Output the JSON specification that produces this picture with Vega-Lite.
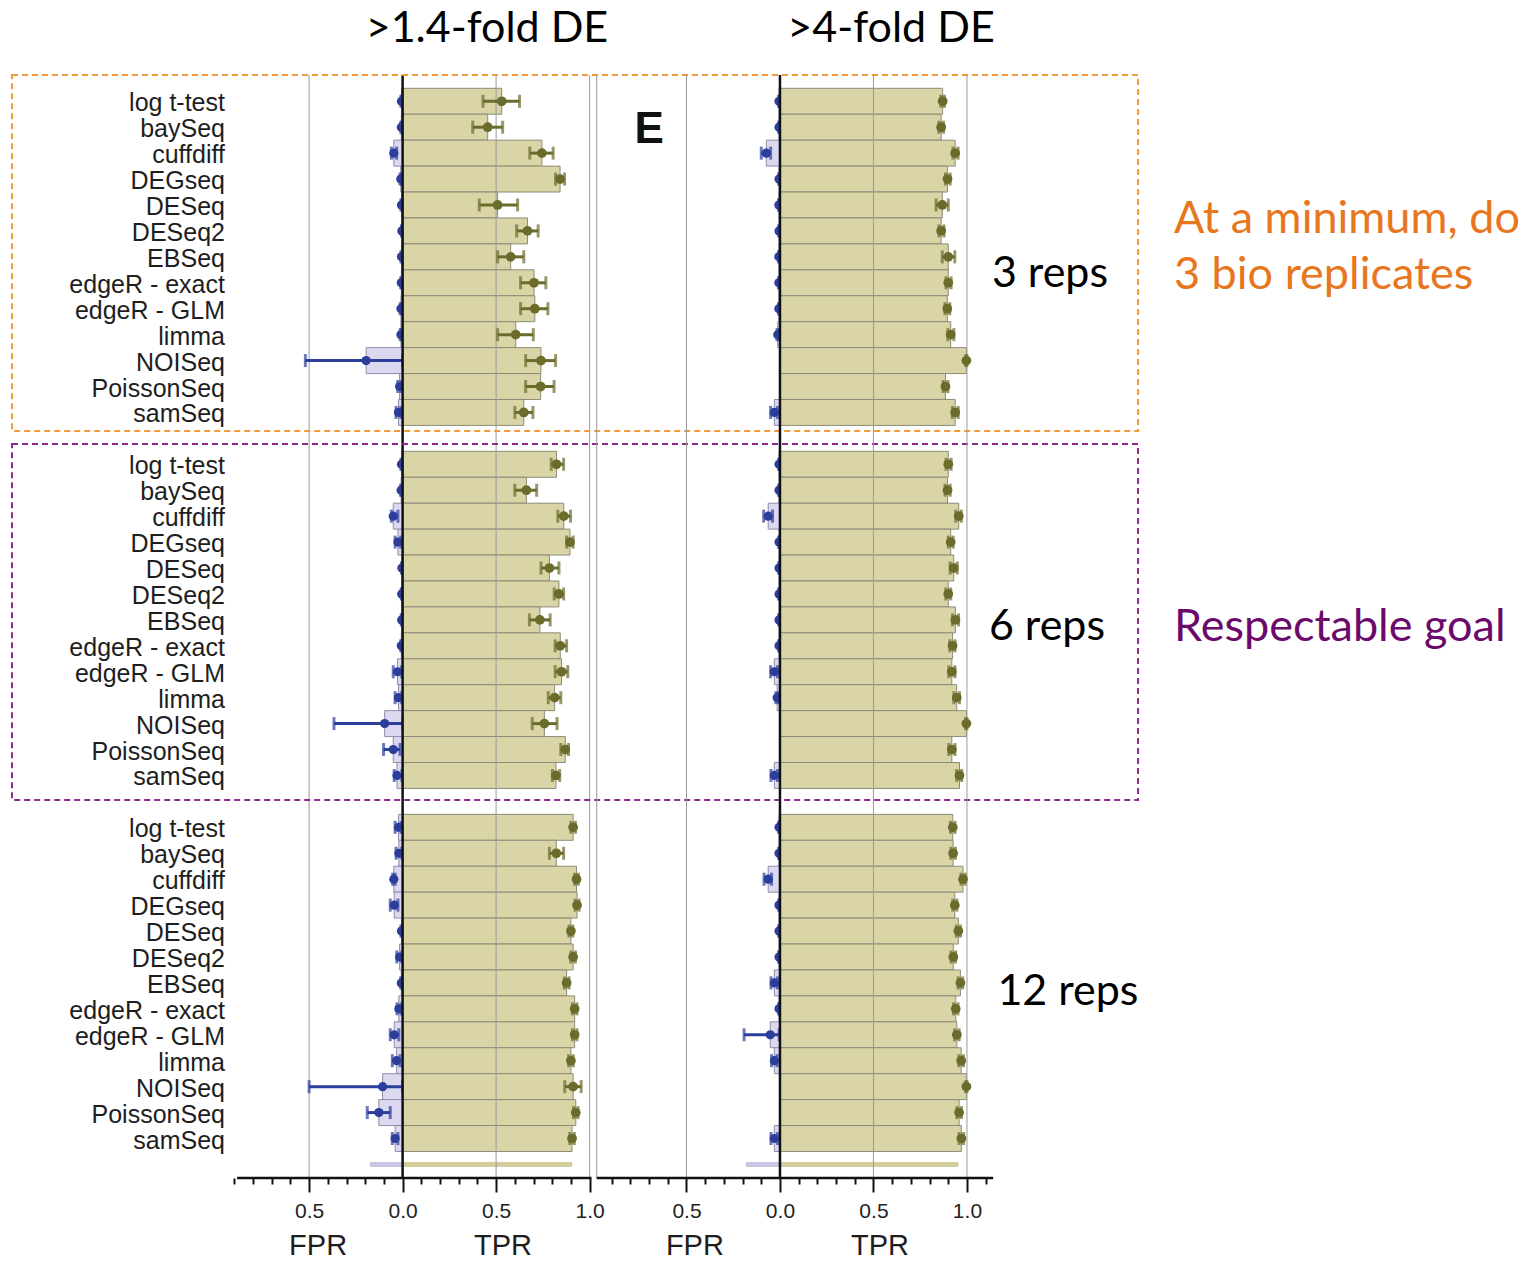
{
"$schema":"https://vega.github.io/schema/vega-lite/v6.json",
"width":1536,"height":1103,
"autosize":{"type":"none"},
"padding":{"left":0,"right":0,"top":75,"bottom":84},
"background":"white",
"config":{"view":{"stroke":null},"font":"Liberation Sans"},
"datasets":{
"rates":[
{"key":"3|log t-test","m":"log t-test","f14":0.006,"f14lo":0.003,"f14hi":0.009,"t14":0.53,"t14lo":0.43,"t14hi":0.625,"f4":0.005,"f4lo":0.003,"f4hi":0.007,"t4":0.87,"t4lo":0.86,"t4hi":0.88},
{"key":"3|baySeq","m":"baySeq","f14":0.007,"f14lo":0.004,"f14hi":0.01,"t14":0.455,"t14lo":0.375,"t14hi":0.535,"f4":0.005,"f4lo":0.003,"f4hi":0.007,"t4":0.862,"t4lo":0.85,"t4hi":0.875},
{"key":"3|cuffdiff","m":"cuffdiff","f14":0.047,"f14lo":0.032,"f14hi":0.06,"t14":0.745,"t14lo":0.68,"t14hi":0.805,"f4":0.073,"f4lo":0.05,"f4hi":0.1,"t4":0.937,"t4lo":0.925,"t4hi":0.952},
{"key":"3|DEGseq","m":"DEGseq","f14":0.01,"f14lo":0.006,"f14hi":0.014,"t14":0.842,"t14lo":0.818,"t14hi":0.866,"f4":0.005,"f4lo":0.003,"f4hi":0.007,"t4":0.896,"t4lo":0.885,"t4hi":0.91},
{"key":"3|DESeq","m":"DESeq","f14":0.006,"f14lo":0.003,"f14hi":0.009,"t14":0.508,"t14lo":0.41,"t14hi":0.615,"f4":0.006,"f4lo":0.004,"f4hi":0.008,"t4":0.868,"t4lo":0.835,"t4hi":0.9},
{"key":"3|DESeq2","m":"DESeq2","f14":0.004,"f14lo":0.002,"f14hi":0.006,"t14":0.668,"t14lo":0.61,"t14hi":0.725,"f4":0.005,"f4lo":0.003,"f4hi":0.007,"t4":0.862,"t4lo":0.85,"t4hi":0.877},
{"key":"3|EBSeq","m":"EBSeq","f14":0.006,"f14lo":0.003,"f14hi":0.009,"t14":0.578,"t14lo":0.508,"t14hi":0.648,"f4":0.006,"f4lo":0.004,"f4hi":0.008,"t4":0.9,"t4lo":0.868,"t4hi":0.935},
{"key":"3|edgeR - exact","m":"edgeR - exact","f14":0.007,"f14lo":0.004,"f14hi":0.01,"t14":0.703,"t14lo":0.631,"t14hi":0.766,"f4":0.006,"f4lo":0.004,"f4hi":0.008,"t4":0.9,"t4lo":0.888,"t4hi":0.915},
{"key":"3|edgeR - GLM","m":"edgeR - GLM","f14":0.009,"f14lo":0.005,"f14hi":0.013,"t14":0.707,"t14lo":0.631,"t14hi":0.777,"f4":0.006,"f4lo":0.004,"f4hi":0.008,"t4":0.895,"t4lo":0.882,"t4hi":0.908},
{"key":"3|limma","m":"limma","f14":0.009,"f14lo":0.005,"f14hi":0.013,"t14":0.605,"t14lo":0.508,"t14hi":0.699,"f4":0.012,"f4lo":0.008,"f4hi":0.016,"t4":0.913,"t4lo":0.898,"t4hi":0.93},
{"key":"3|NOISeq","m":"NOISeq","f14":0.195,"f14lo":0.0,"f14hi":0.52,"t14":0.74,"t14lo":0.658,"t14hi":0.818,"f4":null,"f4lo":null,"f4hi":null,"t4":0.997,"t4lo":0.993,"t4hi":1.0},
{"key":"3|PoissonSeq","m":"PoissonSeq","f14":0.016,"f14lo":0.008,"f14hi":0.026,"t14":0.738,"t14lo":0.658,"t14hi":0.81,"f4":null,"f4lo":null,"f4hi":null,"t4":0.885,"t4lo":0.873,"t4hi":0.898},
{"key":"3|samSeq","m":"samSeq","f14":0.022,"f14lo":0.01,"f14hi":0.035,"t14":0.648,"t14lo":0.6,"t14hi":0.697,"f4":0.03,"f4lo":0.013,"f4hi":0.05,"t4":0.937,"t4lo":0.922,"t4hi":0.953},
{"key":"6|log t-test","m":"log t-test","f14":0.006,"f14lo":0.003,"f14hi":0.009,"t14":0.823,"t14lo":0.795,"t14hi":0.861,"f4":0.005,"f4lo":0.003,"f4hi":0.007,"t4":0.9,"t4lo":0.888,"t4hi":0.915},
{"key":"6|baySeq","m":"baySeq","f14":0.008,"f14lo":0.005,"f14hi":0.011,"t14":0.662,"t14lo":0.6,"t14hi":0.717,"f4":0.005,"f4lo":0.003,"f4hi":0.007,"t4":0.896,"t4lo":0.883,"t4hi":0.91},
{"key":"6|cuffdiff","m":"cuffdiff","f14":0.05,"f14lo":0.025,"f14hi":0.06,"t14":0.862,"t14lo":0.83,"t14hi":0.898,"f4":0.063,"f4lo":0.04,"f4hi":0.087,"t4":0.956,"t4lo":0.94,"t4hi":0.97},
{"key":"6|DEGseq","m":"DEGseq","f14":0.025,"f14lo":0.01,"f14hi":0.04,"t14":0.895,"t14lo":0.877,"t14hi":0.912,"f4":0.005,"f4lo":0.003,"f4hi":0.007,"t4":0.913,"t4lo":0.9,"t4hi":0.926},
{"key":"6|DESeq","m":"DESeq","f14":0.004,"f14lo":0.002,"f14hi":0.006,"t14":0.785,"t14lo":0.74,"t14hi":0.836,"f4":0.005,"f4lo":0.003,"f4hi":0.007,"t4":0.929,"t4lo":0.91,"t4hi":0.948},
{"key":"6|DESeq2","m":"DESeq2","f14":0.005,"f14lo":0.003,"f14hi":0.007,"t14":0.836,"t14lo":0.811,"t14hi":0.861,"f4":0.005,"f4lo":0.003,"f4hi":0.007,"t4":0.9,"t4lo":0.887,"t4hi":0.913},
{"key":"6|EBSeq","m":"EBSeq","f14":0.005,"f14lo":0.003,"f14hi":0.007,"t14":0.734,"t14lo":0.678,"t14hi":0.789,"f4":0.005,"f4lo":0.003,"f4hi":0.007,"t4":0.938,"t4lo":0.922,"t4hi":0.955},
{"key":"6|edgeR - exact","m":"edgeR - exact","f14":0.007,"f14lo":0.004,"f14hi":0.01,"t14":0.843,"t14lo":0.816,"t14hi":0.877,"f4":0.005,"f4lo":0.003,"f4hi":0.007,"t4":0.923,"t4lo":0.908,"t4hi":0.936},
{"key":"6|edgeR - GLM","m":"edgeR - GLM","f14":0.027,"f14lo":0.005,"f14hi":0.05,"t14":0.85,"t14lo":0.816,"t14hi":0.883,"f4":0.03,"f4lo":0.013,"f4hi":0.05,"t4":0.919,"t4lo":0.903,"t4hi":0.936},
{"key":"6|limma","m":"limma","f14":0.022,"f14lo":0.005,"f14hi":0.04,"t14":0.813,"t14lo":0.779,"t14hi":0.846,"f4":0.015,"f4lo":0.008,"f4hi":0.022,"t4":0.945,"t4lo":0.93,"t4hi":0.96},
{"key":"6|NOISeq","m":"NOISeq","f14":0.096,"f14lo":0.0,"f14hi":0.367,"t14":0.758,"t14lo":0.693,"t14hi":0.826,"f4":null,"f4lo":null,"f4hi":null,"t4":0.997,"t4lo":0.993,"t4hi":1.0},
{"key":"6|PoissonSeq","m":"PoissonSeq","f14":0.05,"f14lo":0.014,"f14hi":0.102,"t14":0.87,"t14lo":0.846,"t14hi":0.887,"f4":null,"f4lo":null,"f4hi":null,"t4":0.919,"t4lo":0.903,"t4hi":0.936},
{"key":"6|samSeq","m":"samSeq","f14":0.03,"f14lo":0.004,"f14hi":0.045,"t14":0.82,"t14lo":0.801,"t14hi":0.84,"f4":0.03,"f4lo":0.013,"f4hi":0.048,"t4":0.96,"t4lo":0.945,"t4hi":0.972},
{"key":"12|log t-test","m":"log t-test","f14":0.022,"f14lo":0.008,"f14hi":0.04,"t14":0.912,"t14lo":0.9,"t14hi":0.924,"f4":0.005,"f4lo":0.003,"f4hi":0.007,"t4":0.924,"t4lo":0.912,"t4hi":0.936},
{"key":"12|baySeq","m":"baySeq","f14":0.02,"f14lo":0.004,"f14hi":0.035,"t14":0.822,"t14lo":0.785,"t14hi":0.861,"f4":0.005,"f4lo":0.003,"f4hi":0.007,"t4":0.926,"t4lo":0.914,"t4hi":0.938},
{"key":"12|cuffdiff","m":"cuffdiff","f14":0.047,"f14lo":0.04,"f14hi":0.053,"t14":0.93,"t14lo":0.92,"t14hi":0.94,"f4":0.063,"f4lo":0.045,"f4hi":0.085,"t4":0.979,"t4lo":0.968,"t4hi":0.99},
{"key":"12|DEGseq","m":"DEGseq","f14":0.045,"f14lo":0.025,"f14hi":0.066,"t14":0.933,"t14lo":0.922,"t14hi":0.944,"f4":0.005,"f4lo":0.003,"f4hi":0.007,"t4":0.935,"t4lo":0.924,"t4hi":0.946},
{"key":"12|DESeq","m":"DESeq","f14":0.006,"f14lo":0.003,"f14hi":0.009,"t14":0.9,"t14lo":0.89,"t14hi":0.91,"f4":0.005,"f4lo":0.003,"f4hi":0.007,"t4":0.954,"t4lo":0.943,"t4hi":0.965},
{"key":"12|DESeq2","m":"DESeq2","f14":0.016,"f14lo":0.004,"f14hi":0.031,"t14":0.912,"t14lo":0.9,"t14hi":0.924,"f4":0.005,"f4lo":0.003,"f4hi":0.007,"t4":0.927,"t4lo":0.915,"t4hi":0.939},
{"key":"12|EBSeq","m":"EBSeq","f14":0.007,"f14lo":0.004,"f14hi":0.01,"t14":0.877,"t14lo":0.865,"t14hi":0.89,"f4":0.03,"f4lo":0.013,"f4hi":0.048,"t4":0.965,"t4lo":0.953,"t4hi":0.977},
{"key":"12|edgeR - exact","m":"edgeR - exact","f14":0.02,"f14lo":0.008,"f14hi":0.03,"t14":0.92,"t14lo":0.908,"t14hi":0.932,"f4":0.005,"f4lo":0.003,"f4hi":0.007,"t4":0.94,"t4lo":0.928,"t4hi":0.952},
{"key":"12|edgeR - GLM","m":"edgeR - GLM","f14":0.045,"f14lo":0.02,"f14hi":0.066,"t14":0.92,"t14lo":0.908,"t14hi":0.932,"f4":0.052,"f4lo":0.004,"f4hi":0.192,"t4":0.946,"t4lo":0.934,"t4hi":0.958},
{"key":"12|limma","m":"limma","f14":0.032,"f14lo":0.014,"f14hi":0.055,"t14":0.9,"t14lo":0.888,"t14hi":0.912,"f4":0.03,"f4lo":0.015,"f4hi":0.045,"t4":0.969,"t4lo":0.957,"t4hi":0.981},
{"key":"12|NOISeq","m":"NOISeq","f14":0.107,"f14lo":0.0,"f14hi":0.5,"t14":0.912,"t14lo":0.867,"t14hi":0.955,"f4":null,"f4lo":null,"f4hi":null,"t4":0.997,"t4lo":0.993,"t4hi":1.0},
{"key":"12|PoissonSeq","m":"PoissonSeq","f14":0.127,"f14lo":0.066,"f14hi":0.189,"t14":0.926,"t14lo":0.914,"t14hi":0.938,"f4":null,"f4lo":null,"f4hi":null,"t4":0.958,"t4lo":0.946,"t4hi":0.97},
{"key":"12|samSeq","m":"samSeq","f14":0.04,"f14lo":0.025,"f14hi":0.055,"t14":0.906,"t14lo":0.894,"t14hi":0.918,"f4":0.03,"f4lo":0.013,"f4hi":0.048,"t4":0.97,"t4lo":0.958,"t4hi":0.982}
],
"tail":[{"key":"tail","f14":0.172,"t14":0.905,"f4":0.18,"t4":0.952}]
},
"layer":[
{
"layer":[
{"data":{"name":"rates"},"mark":{"type":"bar","fill":"#DCD8F0","stroke":"#8E8EA8","strokeWidth":1},
 "encoding":{"x":{"field":"f14","type":"quantitative","scale":{"domain":[-6.061,2.153],"reverse":true,"nice":false,"zero":false},
   "axis":{"orient":"bottom","values":[0.5],"format":".1f","domain":false,"grid":false,"tickSize":14,"tickWidth":2,"tickColor":"#111","labelFont":"Liberation Sans","labelFontSize":21,"labelColor":"#222","labelPadding":8,"title":null}},
  "x2":{"datum":0},
  "y":{"field":"key","type":"nominal","axis":null,"scale":{"domain":["3|log t-test","3|baySeq","3|cuffdiff","3|DEGseq","3|DESeq","3|DESeq2","3|EBSeq","3|edgeR - exact","3|edgeR - GLM","3|limma","3|NOISeq","3|PoissonSeq","3|samSeq","sp1","6|log t-test","6|baySeq","6|cuffdiff","6|DEGseq","6|DESeq","6|DESeq2","6|EBSeq","6|edgeR - exact","6|edgeR - GLM","6|limma","6|NOISeq","6|PoissonSeq","6|samSeq","sp2","12|log t-test","12|baySeq","12|cuffdiff","12|DEGseq","12|DESeq","12|DESeq2","12|EBSeq","12|edgeR - exact","12|edgeR - GLM","12|limma","12|NOISeq","12|PoissonSeq","12|samSeq","tail"],"paddingInner":0,"paddingOuter":0.268,"align":0.957}}}},
{"data":{"name":"tail"},"mark":{"type":"bar","fill":"#C9C6E8","stroke":"#A9A6C8","strokeWidth":0.5,"height":4},
 "encoding":{"x":{"field":"f14","type":"quantitative","axis":null},"x2":{"datum":0},"y":{"field":"key","type":"nominal","axis":null}}},
{"data":{"values":[{}]},"mark":{"type":"rule","color":"#9A9A9A","strokeWidth":1},"encoding":{"x":{"datum":0.5,"type":"quantitative","axis":null}}},
{"data":{"name":"rates"},"mark":{"type":"errorbar","color":"#2C3E9C","thickness":3,"size":13,"ticks":true},
 "encoding":{"x":{"field":"f14lo","type":"quantitative","axis":null},"x2":{"field":"f14hi"},"y":{"field":"key","type":"nominal","axis":null}}},
{"data":{"name":"rates"},"mark":{"type":"circle","size":85,"color":"#2C3E9C","opacity":1},
 "encoding":{"x":{"field":"f14","type":"quantitative",
   "axis":{"orient":"bottom","values":[0.1,0.2,0.3,0.4,0.6,0.7,0.8,0.9],"labels":false,"domain":false,"grid":false,"tickSize":6,"tickWidth":2,"tickColor":"#111","title":null}},
  "y":{"field":"key","type":"nominal","axis":null}}}
],
"resolve":{"axis":{"x":"independent"}}
},
{
"layer":[
{"data":{"name":"rates"},"mark":{"type":"bar","fill":"#D9D5A7","stroke":"#8C8C78","strokeWidth":1},
 "encoding":{"x":{"field":"t14","type":"quantitative","scale":{"domain":[-2.153,6.061],"nice":false,"zero":false},
   "axis":{"orient":"bottom","values":[0,0.5,1],"format":".1f","domain":false,"grid":false,"tickSize":14,"tickWidth":2,"tickColor":"#111","labelFont":"Liberation Sans","labelFontSize":21,"labelColor":"#222","labelPadding":8,"title":null}},
  "x2":{"datum":0},
  "y":{"field":"key","type":"nominal","axis":null}}},
{"data":{"name":"tail"},"mark":{"type":"bar","fill":"#D2CE96","stroke":"#B8B47C","strokeWidth":0.5,"height":4},
 "encoding":{"x":{"field":"t14","type":"quantitative","axis":null},"x2":{"datum":0},"y":{"field":"key","type":"nominal","axis":null}}},
{"data":{"values":[{}]},"mark":{"type":"rule","color":"#9A9A9A","strokeWidth":1},"encoding":{"x":{"datum":0.5,"type":"quantitative","axis":null}}},
{"data":{"values":[{}]},"mark":{"type":"rule","color":"#9A9A9A","strokeWidth":1},"encoding":{"x":{"datum":1.0,"type":"quantitative","axis":null}}},
{"data":{"name":"rates"},"mark":{"type":"errorbar","color":"#6B6B2C","thickness":3,"size":13,"ticks":true},
 "encoding":{"x":{"field":"t14lo","type":"quantitative","axis":null},"x2":{"field":"t14hi"},"y":{"field":"key","type":"nominal","axis":null}}},
{"data":{"name":"rates"},"mark":{"type":"circle","size":95,"color":"#6B6B2C","opacity":1},
 "encoding":{"x":{"field":"t14","type":"quantitative",
   "axis":{"orient":"bottom","values":[0.1,0.2,0.3,0.4,0.6,0.7,0.8,0.9],"labels":false,"domain":false,"grid":false,"tickSize":6,"tickWidth":2,"tickColor":"#111","title":null}},
  "y":{"field":"key","type":"nominal","axis":null}}},
{"data":{"values":[{}]},"mark":{"type":"rule","color":"#111111","strokeWidth":2.5},"encoding":{"x":{"datum":0,"type":"quantitative","axis":null}}},
{"data":{"values":[{}]},"mark":{"type":"rule","color":"#111111","strokeWidth":2.5},"encoding":{"x":{"datum":-0.885,"type":"quantitative","axis":null},"x2":{"datum":1.01},"y":{"value":"height"}}},
{"data":{"name":"rates"},"mark":{"type":"text","align":"right","baseline":"middle","dy":2,"font":"Liberation Sans","fontSize":25,"color":"#1E1E1E"},
 "encoding":{"x":{"datum":-0.95,"type":"quantitative","axis":null},"y":{"field":"key","type":"nominal","axis":null},"text":{"field":"m"}}},
{"data":{"values":[{}]},"mark":{"type":"rect","fill":null,"fillOpacity":0,"stroke":"#F39A36","strokeWidth":2,"strokeDash":[6,4]},
 "encoding":{"x":{"datum":-2.089,"type":"quantitative","axis":null},"x2":{"datum":3.933},"y":{"datum":"3|log t-test","type":"nominal","bandPosition":-0.513,"axis":null},"y2":{"datum":"sp1","bandPosition":0.216}}},
{"data":{"values":[{}]},"mark":{"type":"rect","fill":null,"fillOpacity":0,"stroke":"#8E2A8E","strokeWidth":2,"strokeDash":[6,4]},
 "encoding":{"x":{"datum":-2.089,"type":"quantitative","axis":null},"x2":{"datum":3.933},"y":{"datum":"sp1","type":"nominal","bandPosition":0.717,"axis":null},"y2":{"datum":"sp2","bandPosition":0.447}}},
{"data":{"values":[{}]},"mark":{"type":"text","text":">1.4-fold DE","align":"center","baseline":"alphabetic","dy":-59,"font":"Lato","fontSize":43,"color":"#000000"},
 "encoding":{"x":{"datum":0.451,"type":"quantitative","axis":null},"y":{"datum":"3|log t-test","type":"nominal","axis":null}}},
{"data":{"values":[{}]},"mark":{"type":"text","text":"FPR","align":"center","baseline":"alphabetic","dy":91,"font":"Liberation Sans","fontSize":29,"color":"#1E1E1E"},
 "encoding":{"x":{"datum":-0.452,"type":"quantitative","axis":null},"y":{"datum":"tail","type":"nominal","axis":null}}},
{"data":{"values":[{}]},"mark":{"type":"text","text":"TPR","align":"center","baseline":"alphabetic","dy":91,"font":"Liberation Sans","fontSize":29,"color":"#1E1E1E"},
 "encoding":{"x":{"datum":0.537,"type":"quantitative","axis":null},"y":{"datum":"tail","type":"nominal","axis":null}}}
],
"resolve":{"axis":{"x":"independent"}}
},
{
"layer":[
{"data":{"name":"rates"},"mark":{"type":"bar","fill":"#DCD8F0","stroke":"#8E8EA8","strokeWidth":1},
 "encoding":{"x":{"field":"f4","type":"quantitative","scale":{"domain":[-4.043,4.171],"reverse":true,"nice":false,"zero":false},
   "axis":{"orient":"bottom","values":[0.5],"format":".1f","domain":false,"grid":false,"tickSize":14,"tickWidth":2,"tickColor":"#111","labelFont":"Liberation Sans","labelFontSize":21,"labelColor":"#222","labelPadding":8,"title":null}},
  "x2":{"datum":0},
  "y":{"field":"key","type":"nominal","axis":null}}},
{"data":{"name":"tail"},"mark":{"type":"bar","fill":"#C9C6E8","stroke":"#A9A6C8","strokeWidth":0.5,"height":4},
 "encoding":{"x":{"field":"f4","type":"quantitative","axis":null},"x2":{"datum":0},"y":{"field":"key","type":"nominal","axis":null}}},
{"data":{"values":[{}]},"mark":{"type":"rule","color":"#9A9A9A","strokeWidth":1},"encoding":{"x":{"datum":0.5,"type":"quantitative","axis":null}}},
{"data":{"name":"rates"},"mark":{"type":"errorbar","color":"#2C3E9C","thickness":3,"size":13,"ticks":true},
 "encoding":{"x":{"field":"f4lo","type":"quantitative","axis":null},"x2":{"field":"f4hi"},"y":{"field":"key","type":"nominal","axis":null}}},
{"data":{"name":"rates"},"mark":{"type":"circle","size":85,"color":"#2C3E9C","opacity":1},
 "encoding":{"x":{"field":"f4","type":"quantitative",
   "axis":{"orient":"bottom","values":[0.1,0.2,0.3,0.4,0.6,0.7,0.8,0.9],"labels":false,"domain":false,"grid":false,"tickSize":6,"tickWidth":2,"tickColor":"#111","title":null}},
  "y":{"field":"key","type":"nominal","axis":null}}}
],
"resolve":{"axis":{"x":"independent"}}
},
{
"layer":[
{"data":{"name":"rates"},"mark":{"type":"bar","fill":"#D9D5A7","stroke":"#8C8C78","strokeWidth":1},
 "encoding":{"x":{"field":"t4","type":"quantitative","scale":{"domain":[-4.171,4.043],"nice":false,"zero":false},
   "axis":{"orient":"bottom","values":[0,0.5,1],"format":".1f","domain":false,"grid":false,"tickSize":14,"tickWidth":2,"tickColor":"#111","labelFont":"Liberation Sans","labelFontSize":21,"labelColor":"#222","labelPadding":8,"title":null}},
  "x2":{"datum":0},
  "y":{"field":"key","type":"nominal","axis":null}}},
{"data":{"name":"tail"},"mark":{"type":"bar","fill":"#D2CE96","stroke":"#B8B47C","strokeWidth":0.5,"height":4},
 "encoding":{"x":{"field":"t4","type":"quantitative","axis":null},"x2":{"datum":0},"y":{"field":"key","type":"nominal","axis":null}}},
{"data":{"values":[{}]},"mark":{"type":"rule","color":"#9A9A9A","strokeWidth":1},"encoding":{"x":{"datum":0.5,"type":"quantitative","axis":null}}},
{"data":{"values":[{}]},"mark":{"type":"rule","color":"#9A9A9A","strokeWidth":1},"encoding":{"x":{"datum":1.0,"type":"quantitative","axis":null}}},
{"data":{"values":[{}]},"mark":{"type":"rule","color":"#9A9A9A","strokeWidth":1},"encoding":{"x":{"datum":-0.98,"type":"quantitative","axis":null}}},
{"data":{"name":"rates"},"mark":{"type":"errorbar","color":"#6B6B2C","thickness":3,"size":13,"ticks":true},
 "encoding":{"x":{"field":"t4lo","type":"quantitative","axis":null},"x2":{"field":"t4hi"},"y":{"field":"key","type":"nominal","axis":null}}},
{"data":{"name":"rates"},"mark":{"type":"circle","size":95,"color":"#6B6B2C","opacity":1},
 "encoding":{"x":{"field":"t4","type":"quantitative",
   "axis":{"orient":"bottom","values":[0.1,0.2,0.3,0.4,0.6,0.7,0.8,0.9,1.1],"labels":false,"domain":false,"grid":false,"tickSize":6,"tickWidth":2,"tickColor":"#111","title":null}},
  "y":{"field":"key","type":"nominal","axis":null}}},
{"data":{"values":[{}]},"mark":{"type":"rule","color":"#111111","strokeWidth":2.5},"encoding":{"x":{"datum":0,"type":"quantitative","axis":null}}},
{"data":{"values":[{}]},"mark":{"type":"rule","color":"#111111","strokeWidth":2.5},"encoding":{"x":{"datum":-0.98,"type":"quantitative","axis":null},"x2":{"datum":1.14},"y":{"value":"height"}}},
{"data":{"values":[{}]},"mark":{"type":"text","text":">4-fold DE","align":"center","baseline":"alphabetic","dy":-59,"font":"Lato","fontSize":43,"color":"#000000"},
 "encoding":{"x":{"datum":0.594,"type":"quantitative","axis":null},"y":{"datum":"3|log t-test","type":"nominal","axis":null}}},
{"data":{"values":[{}]},"mark":{"type":"text","text":"E","align":"center","baseline":"alphabetic","dy":-10,"font":"Liberation Sans","fontWeight":"bold","fontSize":44,"color":"#111111"},
 "encoding":{"x":{"datum":-0.70,"type":"quantitative","axis":null},"y":{"datum":"3|cuffdiff","type":"nominal","axis":null}}},
{"data":{"values":[{}]},"mark":{"type":"text","text":"3 reps","align":"center","baseline":"alphabetic","dy":4,"font":"Lato","fontSize":43,"color":"#000000"},
 "encoding":{"x":{"datum":1.444,"type":"quantitative","axis":null},"y":{"datum":"3|edgeR - exact","type":"nominal","axis":null}}},
{"data":{"values":[{}]},"mark":{"type":"text","text":"6 reps","align":"center","baseline":"alphabetic","dy":-6,"font":"Lato","fontSize":43,"color":"#000000"},
 "encoding":{"x":{"datum":1.428,"type":"quantitative","axis":null},"y":{"datum":"6|edgeR - exact","type":"nominal","axis":null}}},
{"data":{"values":[{}]},"mark":{"type":"text","text":"12 reps","align":"center","baseline":"alphabetic","dy":-4,"font":"Lato","fontSize":43,"color":"#000000"},
 "encoding":{"x":{"datum":1.54,"type":"quantitative","axis":null},"y":{"datum":"12|edgeR - exact","type":"nominal","axis":null}}},
{"data":{"values":[{}]},"mark":{"type":"text","text":"At a minimum, do","align":"left","baseline":"alphabetic","dy":2,"font":"Lato","fontSize":45,"color":"#E8761C"},
 "encoding":{"x":{"datum":2.107,"type":"quantitative","axis":null},"y":{"datum":"3|DESeq2","type":"nominal","axis":null}}},
{"data":{"values":[{}]},"mark":{"type":"text","text":"3 bio replicates","align":"left","baseline":"alphabetic","dy":6,"font":"Lato","fontSize":45,"color":"#E8761C"},
 "encoding":{"x":{"datum":2.107,"type":"quantitative","axis":null},"y":{"datum":"3|edgeR - exact","type":"nominal","axis":null}}},
{"data":{"values":[{}]},"mark":{"type":"text","text":"Respectable goal","align":"left","baseline":"alphabetic","dy":-5,"font":"Lato","fontSize":45,"color":"#6B0A6B"},
 "encoding":{"x":{"datum":2.107,"type":"quantitative","axis":null},"y":{"datum":"6|edgeR - exact","type":"nominal","axis":null}}},
{"data":{"values":[{}]},"mark":{"type":"text","text":"FPR","align":"center","baseline":"alphabetic","dy":91,"font":"Liberation Sans","fontSize":29,"color":"#1E1E1E"},
 "encoding":{"x":{"datum":-0.455,"type":"quantitative","axis":null},"y":{"datum":"tail","type":"nominal","axis":null}}},
{"data":{"values":[{}]},"mark":{"type":"text","text":"TPR","align":"center","baseline":"alphabetic","dy":91,"font":"Liberation Sans","fontSize":29,"color":"#1E1E1E"},
 "encoding":{"x":{"datum":0.535,"type":"quantitative","axis":null},"y":{"datum":"tail","type":"nominal","axis":null}}}
],
"resolve":{"axis":{"x":"independent"}}
}
],
"resolve":{"scale":{"x":"independent"}}
}
